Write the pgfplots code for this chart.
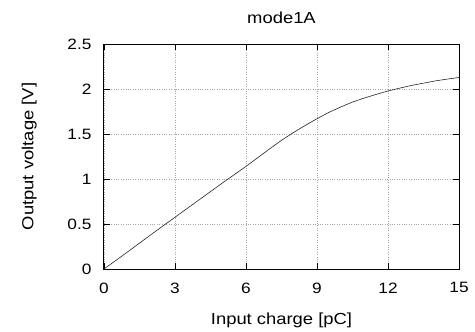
\documentclass[border=0pt]{standalone}
\usepackage{pgfplots}
\pgfplotsset{compat=1.18}
\usepackage{fontspec}
\setmainfont{Liberation Sans}[FakeStretch=1.15]
\begin{document}
\begin{tikzpicture}
\begin{axis}[
  name=ax,
  scale only axis,
  width=355pt, height=225pt,
  xmin=0, xmax=15, ymin=0, ymax=2.5,
  xtick={0,3,6,9,12,15},
  ytick={0,0.5,1,1.5,2,2.5},
  yticklabel style={/pgf/number format/fixed,/pgf/number format/precision=1},
  /pgf/number format/assume math mode=true,
  tick align=inside,
  major tick length=6pt,
  tick style={black, line width=0.8pt},
  axis line style={black, line width=1pt},
  grid=major,
  grid style={gray!70, dotted, line width=0.5pt},
  ticklabel style={font=\fontsize{15}{17}\selectfont},
  xticklabel style={yshift=-10pt},
  yticklabel style={xshift=-9pt},
  title={mode1A},
  title style={font=\fontsize{16}{18}\selectfont, yshift=11pt},
  xlabel={Input charge [pC]},
  ylabel={Output voltage [V]},
  label style={font=\fontsize{16}{18}\selectfont},
  xlabel style={yshift=-13pt},
  ylabel style={yshift=24pt},
]
\addplot[black!85, line width=0.6pt] coordinates {
(0,0) (1,0.19) (2,0.385) (3,0.575) (4,0.765) (5,0.955) (6,1.14) (7,1.335)
(7.5,1.43) (8,1.515) (8.5,1.595) (9,1.67) (9.5,1.74) (10,1.80) (10.5,1.855)
(11,1.90) (11.5,1.94) (12,1.978) (12.5,2.01) (13,2.04) (13.5,2.065) (14,2.09) (14.5,2.11) (15,2.128)
};
\coordinate (bl) at (rel axis cs:0,0);
\coordinate (tr) at (rel axis cs:1,1);
\end{axis}
\path (bl) ++(-104pt,-61pt) coordinate (p1);
\path (tr) ++(16pt,44pt) coordinate (p2);
\path (p1) rectangle (p2);
\end{tikzpicture}
\end{document}
